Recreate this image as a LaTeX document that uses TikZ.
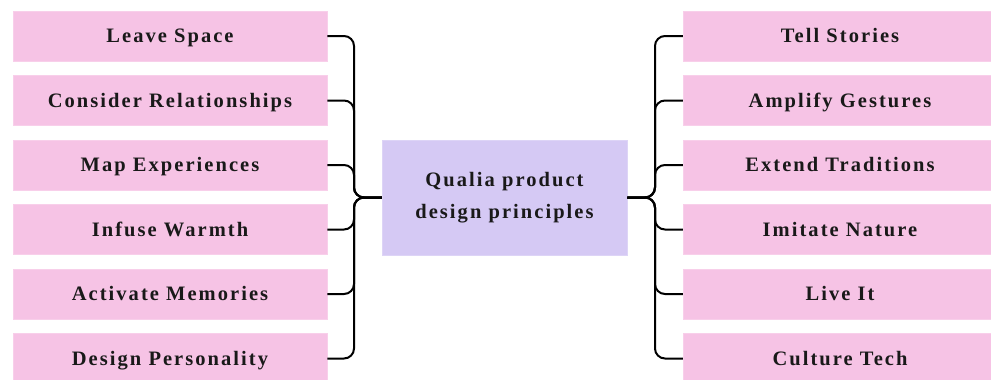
\documentclass[tikz,border=0pt]{standalone}
\usepackage{fontspec}
\newfontfamily\boxfont{Liberation Serif}[LetterSpace=10]
\definecolor{pinkbox}{HTML}{F6C3E5}
\definecolor{lavbox}{HTML}{D5C9F4}
\begin{document}
\begin{tikzpicture}[x=1pt,y=-1pt,
  leaf/.style={fill=pinkbox, draw=pinkbox!80!white, line width=0.5pt, minimum width=314pt, minimum height=50pt, inner sep=0pt,
    text height=13.8pt, text depth=0pt,
    font=\boxfont\bfseries\fontsize{20.5}{24}\selectfont, text=black!90},
  hub/.style={fill=lavbox, draw=lavbox!80!white, line width=0.5pt, minimum width=245pt, minimum height=115pt, inner sep=0pt, align=center,
    font=\boxfont\bfseries\fontsize{20.5}{32}\selectfont, text=black!90},
  link/.style={draw=black, line width=2pt, rounded corners=10pt}]
\useasboundingbox (0,0) rectangle (991,380);
\clip (0,0) rectangle (991,380);
\node[hub] (c) at (504.5,197.5) {Qualia product\\design principles};
\node[leaf] (l1) at (170,36) {Leave Space};
\node[leaf] (l2) at (170,100.5) {Consider Relationships};
\node[leaf] (l3) at (170,165) {Map Experiences};
\node[leaf] (l4) at (170,229.5) {Infuse Warmth};
\node[leaf] (l5) at (170,294) {Activate Memories};
\node[leaf] (l6) at (170,358.5) {Design Personality};
\node[leaf] (r1) at (840,36) {Tell Stories};
\node[leaf] (r2) at (840,100.5) {Amplify Gestures};
\node[leaf] (r3) at (840,165) {Extend Traditions};
\node[leaf] (r4) at (840,229.5) {Imitate Nature};
\node[leaf] (r5) at (840,294) {Live It};
\node[leaf] (r6) at (840,358.5) {Culture Tech};
\foreach \i in {1,...,6} {
  \draw[link] (l\i.east) -| (354,197.5) -- (c.west);
  \draw[link] (r\i.west) -| (655,197.5) -- (c.east);
}
\end{tikzpicture}
\end{document}
